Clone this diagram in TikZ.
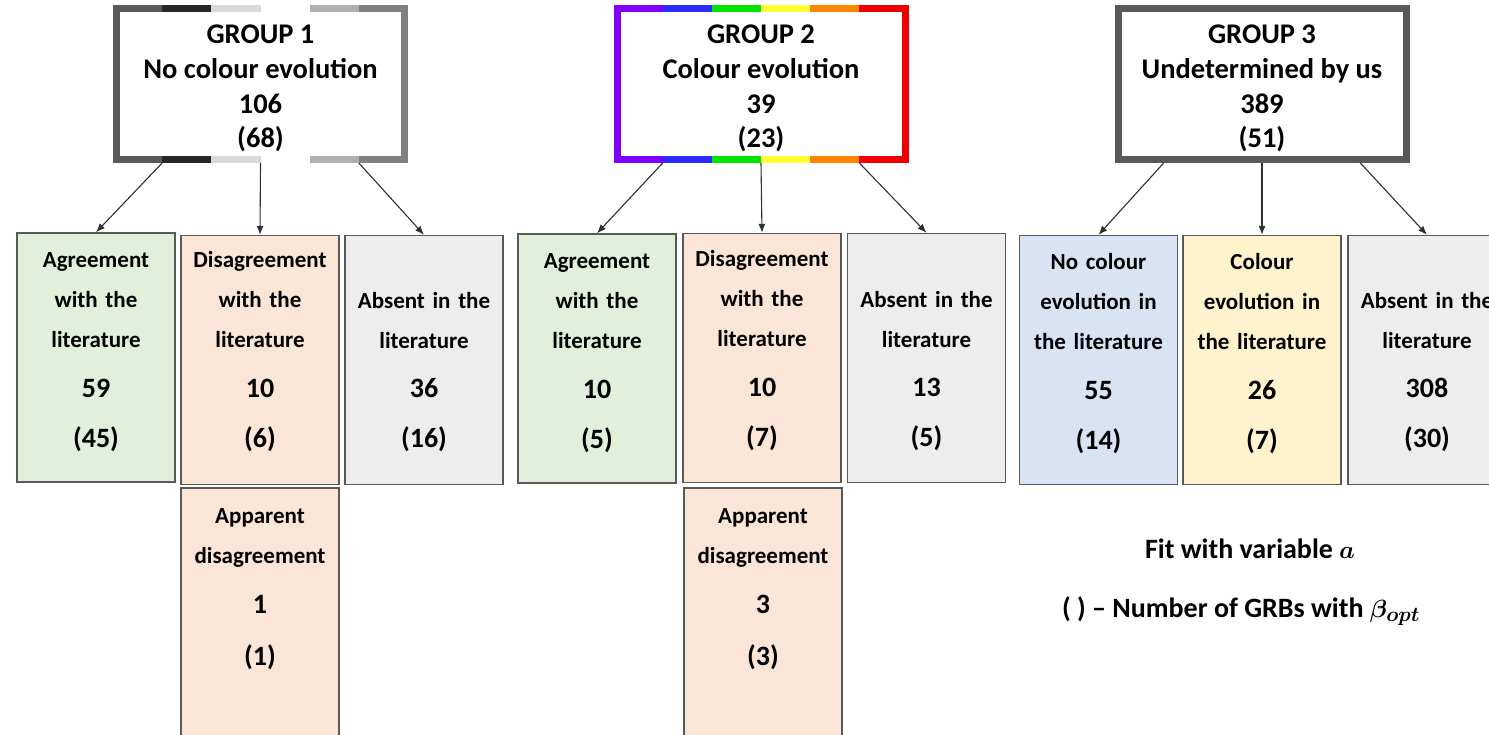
\documentclass[tikz,border=0pt]{standalone}
\usepackage{amsmath}
\usepackage{bm}
\usepackage{fontspec}
\setmainfont{Carlito}
\usepackage{tikz}
\usetikzlibrary{arrows.meta,calc}

\definecolor{agreecol}{HTML}{E2EFDA}
\definecolor{disagreecol}{HTML}{FBE5D6}
\definecolor{absentcol}{HTML}{EDEDED}
\definecolor{nocolcol}{HTML}{DAE3F3}
\definecolor{colevcol}{HTML}{FFF2CC}
\definecolor{edgecol}{HTML}{595959}
\definecolor{arrowcol}{HTML}{303030}
\definecolor{greyA}{HTML}{595959}
\definecolor{greyB}{HTML}{262626}
\definecolor{greyC}{HTML}{D9D9D9}
\definecolor{greyD}{HTML}{FFFFFF}
\definecolor{greyE}{HTML}{AFAFAF}
\definecolor{greyF}{HTML}{808080}
\definecolor{rainA}{HTML}{8000FF}
\definecolor{rainB}{HTML}{2B2BFF}
\definecolor{rainC}{HTML}{00E600}
\definecolor{rainD}{HTML}{FFFF33}
\definecolor{rainE}{HTML}{FF8400}
\definecolor{rainF}{HTML}{EE0000}

\tikzset{
  grp/.style={minimum width=288pt, minimum height=151pt, line width=7pt, fill=white,
    align=center, inner sep=0pt, font=\fontsize{28.5}{34.7}\selectfont\bfseries},
  cell/.style={draw=edgecol, line width=1.3pt, minimum width=158pt, minimum height=249pt, inner sep=0pt},
  celltxt/.style={anchor=base, text width=156pt, align=center, inner sep=0pt,
    font=\fontsize{23}{40}\selectfont\bfseries},
  note/.style={font=\fontsize{28}{34}\selectfont\bfseries, inner sep=0pt},
  link/.style={-{Latex[length=9pt,width=7pt]}, line width=1.1pt, draw=arrowcol},
}
\newcommand{\cnum}[1]{{\fontsize{28}{50}\selectfont #1}}
\newcommand{\gtop}{\rule{0pt}{28pt}}

\begin{document}
\begin{tikzpicture}[x=1pt,y=-1pt]
\useasboundingbox (0,0) rectangle (1489,735);
\clip (0,0) rectangle (1489,735);

\node[grp] (g1) at (260.5,84) {\gtop GROUP 1\\No colour evolution\\106\\(68)};
\node[grp] (g2) at (761,84) {\gtop GROUP 2\\Colour evolution\\39\\(23)};
\node[grp, draw=edgecol] (g3) at (1262,84) {\gtop GROUP 3\\Undetermined by us\\389\\(51)};

\foreach \c [count=\i] in {greyA,greyB,greyC,greyD,greyE,greyF} {
  \fill[\c] ($(g1.north west)!{(\i-1)/6}!(g1.north east)$) rectangle ($(g1.north west)!{\i/6}!(g1.north east)+(0,7)$);
  \fill[\c] ($(g1.south west)!{(\i-1)/6}!(g1.south east)$) rectangle ($(g1.south west)!{\i/6}!(g1.south east)+(0,-7)$);
}
\fill[greyA] (g1.north west) rectangle ($(g1.south west)+(7,0)$);
\fill[greyF] (g1.north east) rectangle ($(g1.south east)+(-7,0)$);

\foreach \c [count=\i] in {rainA,rainB,rainC,rainD,rainE,rainF} {
  \fill[\c] ($(g2.north west)!{(\i-1)/6}!(g2.north east)$) rectangle ($(g2.north west)!{\i/6}!(g2.north east)+(0,7)$);
  \fill[\c] ($(g2.south west)!{(\i-1)/6}!(g2.south east)$) rectangle ($(g2.south west)!{\i/6}!(g2.south east)+(0,-7)$);
}
\fill[rainA] (g2.north west) rectangle ($(g2.south west)+(7,0)$);
\fill[rainF] (g2.north east) rectangle ($(g2.south east)+(-7,0)$);

\node[cell, fill=agreecol] (g1a) at (96,357.5) {};
\node[cell, fill=disagreecol] (g1b) at (260,360) {};
\node[cell, fill=absentcol] (g1c) at (424,360) {};
\node[cell, fill=disagreecol] (g1d) at (260,612.5) {};
\node[cell, fill=agreecol] (g2a) at (597,358.5) {};
\node[cell, fill=disagreecol] (g2b) at (762,358) {};
\node[cell, fill=absentcol] (g2c) at (926.5,358) {};
\node[cell, fill=disagreecol] (g2d) at (763,612.5) {};
\node[cell, fill=nocolcol] (g3a) at (1098.5,360) {};
\node[cell, fill=colevcol] (g3b) at (1262,360) {};
\node[cell, fill=absentcol] (g3c) at (1427,360) {};

\node[celltxt] (t1a) at ([yshift=-35pt]g1a.north) {Agreement\\with the\\literature\\[10pt]\cnum{59}\\[10pt]\cnum{(45)}};
\node[celltxt] (t1b) at ([yshift=-33pt]g1b.north) {Disagreement\\with the\\literature\\[10pt]\cnum{10}\\[10pt]\cnum{(6)}};
\node[celltxt] (t1c) at ([yshift=-74pt]g1c.north) {Absent in the\\literature\\[9pt]\cnum{36}\\[10pt]\cnum{(16)}};
\node[celltxt] (t1d) at ([yshift=-36pt]g1d.north) {Apparent\\disagreement\\[10pt]\cnum{1}\\[12pt]\cnum{(1)}};
\node[celltxt] (t2a) at ([yshift=-35pt]g2a.north) {Agreement\\with the\\literature\\[10pt]\cnum{10}\\[10pt]\cnum{(5)}};
\node[celltxt] (t2b) at ([yshift=-34pt]g2b.north) {Disagreement\\with the\\literature\\[10pt]\cnum{10}\\[10pt]\cnum{(7)}};
\node[celltxt] (t2c) at ([yshift=-75pt]g2c.north) {Absent in the\\literature\\[9pt]\cnum{13}\\[10pt]\cnum{(5)}};
\node[celltxt] (t2d) at ([yshift=-36pt]g2d.north) {Apparent\\disagreement\\[10pt]\cnum{3}\\[12pt]\cnum{(3)}};
\node[celltxt] (t3a) at ([yshift=-35pt]g3a.north) {No colour\\evolution in\\the literature\\[10pt]\cnum{55}\\[10pt]\cnum{(14)}};
\node[celltxt] (t3b) at ([yshift=-35pt]g3b.north) {Colour\\evolution in\\the literature\\[10pt]\cnum{26}\\[10pt]\cnum{(7)}};
\node[celltxt] (t3c) at ([yshift=-74pt]g3c.north) {Absent in the\\literature\\[9pt]\cnum{308}\\[10pt]\cnum{(30)}};

\draw[link] ($(g1.south west)!1/6!(g1.south east)$) -- (g1a.north);
\draw[link] (g1.south) -- (g1b.north);
\draw[link] ($(g1.south west)!5/6!(g1.south east)$) -- (g1c.north);
\draw[link] ($(g2.south west)!1/6!(g2.south east)$) -- (g2a.north);
\draw[link] (g2.south) -- (g2b.north);
\draw[link] ($(g2.south west)!5/6!(g2.south east)$) -- (g2c.north);
\draw[link] ($(g3.south west)!1/6!(g3.south east)$) -- (g3a.north);
\draw[link] (g3.south) -- (g3b.north);
\draw[link] ($(g3.south west)!5/6!(g3.south east)$) -- (g3c.north);

\node[note] (fitnote) at (1250,549) {Fit with variable $\bm{a}$};
\node[note] (keynote) at (1241,611) {( ) -- Number of GRBs with $\bm{\beta}_{\bm{opt}}$};
\end{tikzpicture}
\end{document}
